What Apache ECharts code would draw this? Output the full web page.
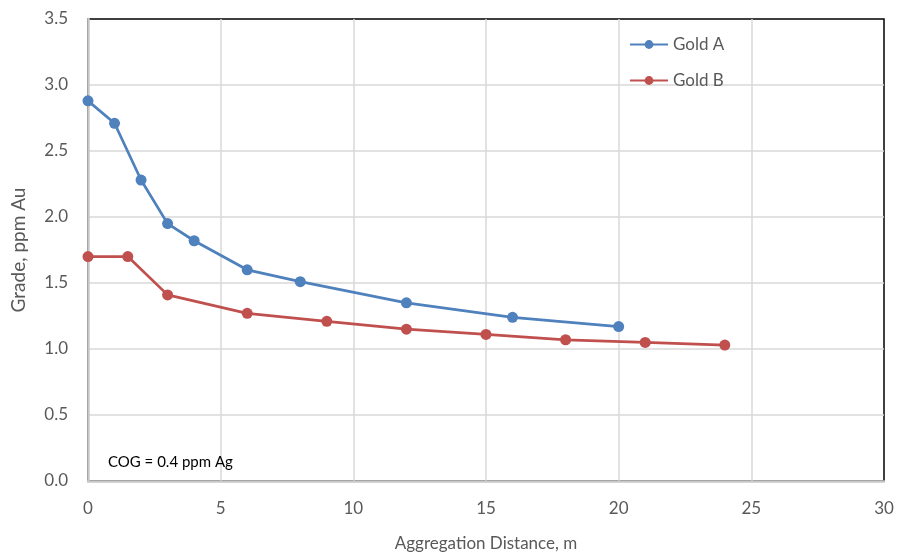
<!DOCTYPE html>
<html><head><meta charset="utf-8">
<script src="https://cdn.jsdelivr.net/npm/echarts@6/dist/echarts.min.js"></script>
<style>html,body{margin:0;padding:0;background:#fff}#c{width:900px;height:554px}</style>
</head><body><div id="c"></div>
<script>
const goldAX = [0, 1, 2, 3, 4, 6, 8, 12, 16, 20];
const goldAY = [2.88, 2.71, 2.28, 1.95, 1.82, 1.60, 1.51, 1.35, 1.24, 1.17];
const goldBX = [0, 1.5, 3, 6, 9, 12, 15, 18, 21, 24];
const goldBY = [1.70, 1.70, 1.41, 1.27, 1.21, 1.15, 1.11, 1.07, 1.05, 1.03];
const xTicks = [0, 5, 10, 15, 20, 25, 30];
const yTicks = [0, 0.5, 1, 1.5, 2, 2.5, 3, 3.5];
const seriesNames = ['Gold A', 'Gold B'];
const note = 'COG = 0.4 ppm Ag';

const font = 'Lato, "Open Sans", sans-serif';
const chart = echarts.init(document.getElementById('c'));
chart.setOption({
  animation: false,
  backgroundColor: '#fff',
  grid: {left: 88, right: 16, top: 19, bottom: 73, containLabel: false, outerBoundsMode: 'none',
         show: true, borderColor: '#000', borderWidth: 1.5, backgroundColor: '#fff'},
  legend: {
    orient: 'vertical', left: 624, top: 31, itemGap: 19, itemWidth: 38, itemHeight: 11,
    textStyle: {fontFamily: font, fontSize: 17, color: '#595959'},
    data: seriesNames
  },
  xAxis: {
    type: 'value', min: 0, max: 30, interval: 5, position: 'bottom',
    name: 'Aggregation Distance, m', nameLocation: 'middle', nameGap: 54,
    nameTextStyle: {fontFamily: font, fontSize: 17, color: '#595959'},
    axisLine: {show: true, onZero: false, lineStyle: {color: '#c8c8c8', width: 2.5}},
    axisTick: {show: false},
    axisLabel: {fontFamily: font, fontSize: 17, color: '#595959', margin: 19,
      formatter: v => xTicks.includes(v) ? String(v) : ''},
    splitLine: {show: true, showMinLine: false, showMaxLine: false, lineStyle: {color: '#d9d9d9', width: 1.5}}
  },
  yAxis: {
    type: 'value', min: 0, max: 3.5, interval: 0.5, position: 'left',
    name: 'Grade, ppm Au', nameLocation: 'middle', nameGap: 60,
    nameTextStyle: {fontFamily: font, fontSize: 19, color: '#595959'},
    axisLine: {show: true, onZero: false, lineStyle: {color: '#c8c8c8', width: 2.5}},
    axisTick: {show: false},
    axisLabel: {fontFamily: font, fontSize: 17, color: '#595959', margin: 20,
      formatter: v => yTicks.some(t => Math.abs(t - v) < 1e-9) ? v.toFixed(1) : ''},
    splitLine: {show: true, showMinLine: false, showMaxLine: false, lineStyle: {color: '#d9d9d9', width: 1.5}}
  },
  graphic: [{
    type: 'text', left: 108, top: 455, z: 100,
    style: {text: note, fontFamily: font, fontSize: 15, fill: '#000'}
  }],
  series: [
    {name: seriesNames[0], type: 'line', data: goldAX.map((x, i) => [x, goldAY[i]]),
     symbol: 'circle', symbolSize: 11, color: '#4f81bd', lineStyle: {width: 2.75}},
    {name: seriesNames[1], type: 'line', data: goldBX.map((x, i) => [x, goldBY[i]]),
     symbol: 'circle', symbolSize: 11, color: '#c0504d', lineStyle: {width: 2.75}}
  ]
});
</script></body></html>
